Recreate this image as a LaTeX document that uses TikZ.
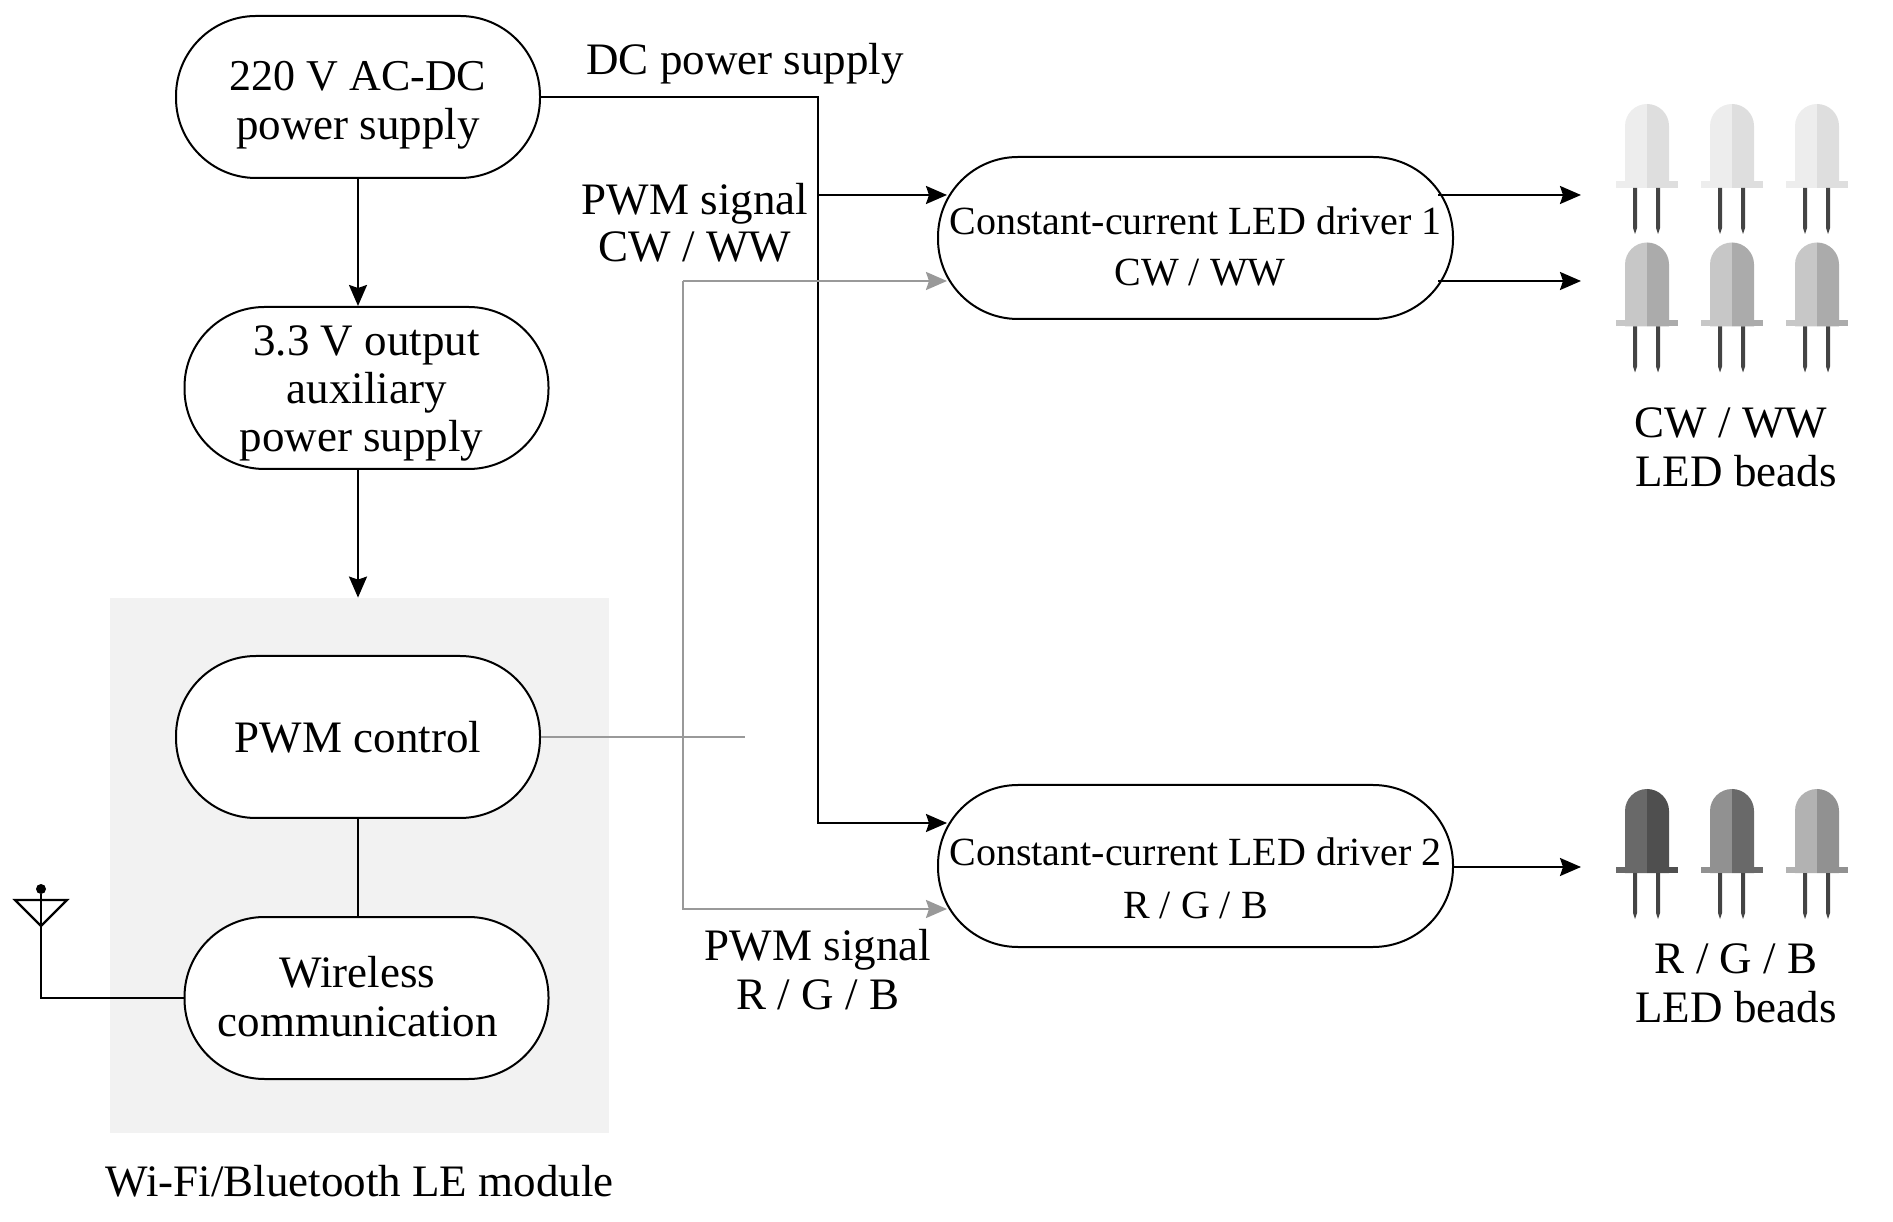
\documentclass[tikz,border=0pt]{standalone}
\usepackage{fontspec}
\setmainfont{Liberation Serif}
\usetikzlibrary{positioning, calc, arrows.meta}
\definecolor{panelgray}{HTML}{F2F2F2}
\definecolor{pwmgray}{HTML}{999999}
\definecolor{leggray}{HTML}{444444}
\tikzset{stadium/.style={draw=black, fill=white, line width=1pt, rounded corners=40pt, inner sep=0pt, minimum width=182pt, minimum height=81pt, align=center, font=\fontsize{22.5}{24.5}\selectfont}}
\tikzset{drvbox/.style={stadium, minimum width=257.5pt, font=\fontsize{20}{25.5}\selectfont}}
\tikzset{caption/.style={align=center, inner sep=0pt, font=\fontsize{22.5}{24.5}\selectfont}}
\tikzset{power/.style={draw=black, line width=1.1pt}}
\tikzset{powerarrow/.style={power, -{Stealth[length=10.5pt, width=9pt, inset=1.5pt]}}}
\tikzset{pwm/.style={draw=pwmgray, line width=1.2pt}}
\tikzset{pwmarrow/.style={pwm, -{Stealth[length=10.5pt, width=9pt, inset=1.5pt]}}}
\tikzset{pics/ledbead/.style 2 args={code={
  \fill[#1] (-31,0) rectangle (0,6.5);
  \fill[#2] (0,0) rectangle (31,6.5);
  \fill[#1] (-22,0) -- (-22,62) arc (180:90:22) -- (0,0) -- cycle;
  \fill[#2] (22,0) -- (22,62) arc (0:90:22) -- (0,0) -- cycle;
  \fill[leggray] (-14,0) -- (-14,-40) -- (-12,-46) -- (-10,-40) -- (-10,0) -- cycle;
  \fill[leggray] (9,0) -- (9,-40) -- (11,-46) -- (13,-40) -- (13,0) -- cycle;
}}}
\begin{document}
\begin{tikzpicture}[x=0.5pt, y=0.5pt]
  \useasboundingbox (0,0) rectangle (1893,1221);

  \node[fill=panelgray, inner sep=0pt, minimum width=249.5pt, minimum height=267.5pt] (module) at (359.5,355.5) {};
  \node[caption] (labelmodule) at ($(module.south)+(0,-48)$) {Wi-Fi/Bluetooth LE module};

  \node[stadium] (psu) at (358,1124) {\rule{0pt}{22.4pt}{\fontsize{22}{24.5}\selectfont 220 V AC-DC}\\power supply};
  \node[stadium] (aux) at (366.5,833) {\rule{0pt}{20.4pt}3.3 V output\\[-0.5pt]auxiliary\\[-0.5pt]power supply\hspace*{5pt}};
  \node[stadium] (ctl) at (358,484) {PWM control};
  \node[stadium] (wls) at (366.5,223) {Wireless\hspace*{9pt}\\\rule[-1.2pt]{0pt}{1pt}communication\hspace*{9pt}};
  \node[drvbox] (drv1) at (1195.5,983) {\rule{0pt}{22.2pt}Constant-current LED driver 1\\\hspace*{4.5pt}CW / WW};
  \node[drvbox] (drv2) at (1195.5,355) {\rule{0pt}{25.7pt}Constant-current LED driver 2\\[1pt]R / G / B};

  \node[caption] (labeldc) at (745,1157) {DC power supply};
  \node[caption] (labelcw) at (695,998) {PWM signal\\[-1pt]CW / WW};
  \node[caption] (labelrgb) at (818,251) {PWM signal\\R / G / B};

  \draw[powerarrow] (psu.south) -- (aux.north -| psu.south);
  \draw[powerarrow] (aux.south -| psu.south) -- (module.north -| psu.south);
  \draw[power] (ctl.south) -- (wls.north -| ctl.south);

  \coordinate (bustop) at (818,1124);
  \draw[powerarrow] (psu.east) -- (bustop) -- ($(bustop|-drv2.west)+(0,43)$) -- ($(drv2.west)+(10,43)$);
  \draw[powerarrow] ($(bustop|-drv1.west)+(0,43)$) -- ($(drv1.west)+(10,43)$);

  \coordinate (pwmbus) at (683,484);
  \coordinate (pwmend) at (745,484);
  \draw[pwm] (ctl.east) -- (pwmend);
  \draw[pwmarrow] ($(pwmbus|-drv1.west)+(0,-43)$) -- ($(drv1.west)+(10,-43)$);
  \draw[pwmarrow] ($(pwmbus|-drv1.west)+(0,-43)$) -- ($(pwmbus|-drv2.west)+(0,-43)$) -- ($(drv2.west)+(10,-43)$);

  \coordinate (beadtip) at (1581,0);
  \draw[powerarrow] ($(drv1.east)+(-16,43)$) -- ($(beadtip|-drv1.east)+(0,43)$);
  \draw[powerarrow] ($(drv1.east)+(-16,-43)$) -- ($(beadtip|-drv1.east)+(0,-43)$);
  \draw[powerarrow] ($(drv2.east)+(0,-1)$) -- ($(beadtip|-drv2.east)+(0,-1)$);

  \node[circle, fill=black, inner sep=0pt, minimum size=5pt] (anttop) at (41,332) {};
  \coordinate (antbase) at (41,295);
  \draw[power] (anttop) -- (antbase);
  \draw[power] (wls.west) -| (antbase);
  \draw[power] ($(antbase)+(-26,26)$) -- ($(antbase)+(26,26)$) -- (antbase) -- cycle;

  \pic at (1647,1033) {ledbead={black!7}{black!13}};
  \pic at (1732,1033) {ledbead={black!7}{black!13}};
  \pic at (1817,1033) {ledbead={black!7}{black!13}};
  \pic at (1647,894.5) {ledbead={black!22}{black!33}};
  \pic at (1732,894.5) {ledbead={black!22}{black!33}};
  \pic at (1817,894.5) {ledbead={black!22}{black!33}};
  \pic at (1647,348) {ledbead={black!59}{black!69}};
  \pic at (1732,348) {ledbead={black!43}{black!59}};
  \pic at (1817,348) {ledbead={black!30}{black!43}};

  \node[caption] (labelcwbeads) at (1736,774) {CW / WW\hspace*{5pt}\\LED beads};
  \node[caption] (labelrgbbeads) at (1736,238) {R / G / B\\LED beads};
\end{tikzpicture}
\end{document}
